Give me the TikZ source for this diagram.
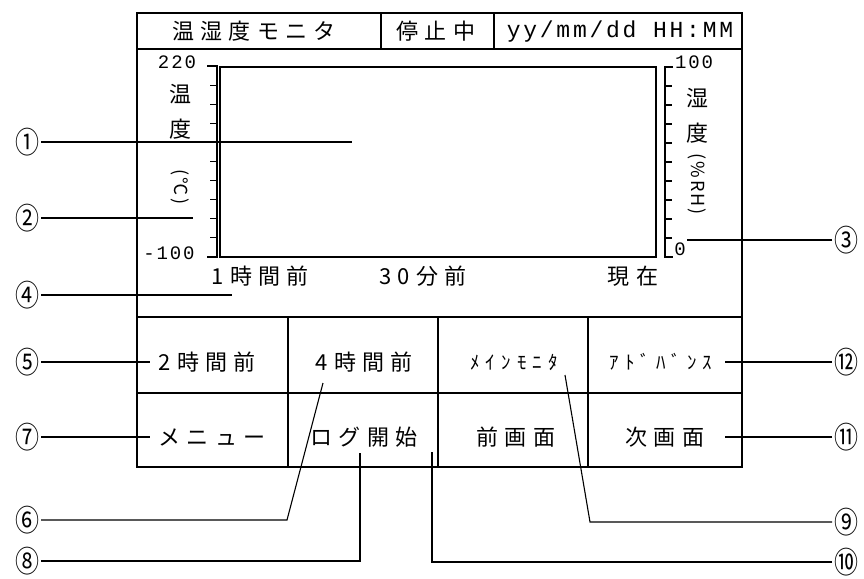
\documentclass[tikz,border=0pt]{standalone}
\usepackage{fontspec}
\setmainfont{Noto Sans CJK JP}
\newfontfamily\jp[LetterSpace=28]{Noto Sans CJK JP}
\newfontfamily\jph[LetterSpace=32]{Noto Sans CJK JP}
\newfontfamily\jpn[LetterSpace=12]{Noto Sans CJK JP}
\newfontfamily\monof[LetterSpace=12]{Liberation Mono}
\newfontfamily\digf[LetterSpace=10]{Liberation Mono}
\begin{document}
\begin{tikzpicture}[x=1pt,y=-1pt,
  frame/.style={line width=1.3pt,draw=black},
  axisln/.style={line width=1.1pt,draw=black},
  callout/.style={line width=1.1pt,draw=black},
  jt/.style={inner sep=0pt,font=\jp\fontsize{22}{24}\selectfont},
  ht/.style={inner sep=0pt,font=\jph\fontsize{19}{20}\selectfont},
  mt/.style={inner sep=0pt,font=\monof\fontsize{23}{24}\selectfont},
  dt/.style={inner sep=0pt,font=\digf\fontsize{19}{20}\selectfont},
  unit/.style={inner sep=0pt,font=\jpn\fontsize{18}{20}\selectfont},
  circ/.style={inner sep=0pt,outer sep=2pt,font=\fontsize{30}{30}\selectfont}]
\useasboundingbox (0,0) rectangle (864,578);
\fill[white] (0,0) rectangle (864,578);

% screen frame
\draw[frame] (137,13) rectangle (742,467);
\draw[frame] (137,49) -- (742,49);
\draw[frame] (381,13) -- (381,49);
\draw[frame] (494,13) -- (494,49);
\draw[frame] (137,317) -- (742,317);
\draw[frame] (137,393) -- (742,393);
\draw[frame] (288,317) -- (288,467);
\draw[frame] (438,317) -- (438,467);
\draw[frame] (588,317) -- (588,467);

% plot area
\draw[frame] (220,67) rectangle (656,257);
% left scale
\draw[axisln] (207,66) -- (217,66) -- (217,257) -- (207,257);
\foreach \i in {1,...,9} \draw[axisln] (210,{66+19.1*\i}) -- (217,{66+19.1*\i});
% right scale
\draw[axisln] (673,67) -- (665,67) -- (665,257) -- (673,257);
\foreach \i in {1,...,9} \draw[axisln] (665,{67+19*\i}) -- (672,{67+19*\i});

% header texts
\node[jt] (title) at (254,31) {温湿度モニタ};
\node[jt] (stop) at (436,31) {停止中};
\node[mt] (date) at (620,32) {yy/mm/dd HH:MM};

% scale labels
\node[dt] (t220) at (177,62) {220};
\node[dt] (tm100) at (169,253) {-100};
\node[dt] (h100) at (694,62) {100};
\node[dt] (h0) at (680,249) {0};
\node[jt] (lt1) at (180,94) {温};
\node[jt] (lt2) at (180,129) {度};
\node[unit,rotate=-90] (lt3) at (180,187) {(℃)};
\node[jt] (rt1) at (697,98) {湿};
\node[jt] (rt2) at (697,133) {度};
\node[unit,rotate=-90] (rt3) at (697,184) {(\%RH)};
\node[jt] (b1) at (260,276) {1時間前};
\node[jt] (b2) at (423,276) {30分前};
\node[jt] (b3) at (633,276) {現在};

% buttons
\node[jt] (k1) at (207,362) {2時間前};
\node[jt] (k2) at (364,362) {4時間前};
\node[ht] (k3) at (514,362) {ﾒｲﾝﾓﾆﾀ};
\node[ht] (k4) at (661,362) {ｱﾄﾞﾊﾞﾝｽ};
\node[jt] (k5) at (212,437) {メニュー};
\node[jt] (k6) at (364,437) {ログ開始};
\node[jt] (k7) at (516,437) {前画面};
\node[jt] (k8) at (665,437) {次画面};

% callout markers
\node[circ] (c1) at (27,142) {\scalebox{0.8}[1]{①}};
\node[circ] (c2) at (27,218) {\scalebox{0.8}[1]{②}};
\node[circ] (c4) at (27,295) {\scalebox{0.8}[1]{④}};
\node[circ] (c5) at (27,362) {\scalebox{0.8}[1]{⑤}};
\node[circ] (c7) at (27,437) {\scalebox{0.8}[1]{⑦}};
\node[circ] (c6) at (27,520) {\scalebox{0.8}[1]{⑥}};
\node[circ] (c8) at (27,561) {\scalebox{0.8}[1]{⑧}};
\node[circ] (c3) at (846,240) {\scalebox{0.8}[1]{③}};
\node[circ] (c12) at (846,362) {\scalebox{0.8}[1]{⑫}};
\node[circ] (c11) at (846,437) {\scalebox{0.8}[1]{⑪}};
\node[circ] (c9) at (846,522) {\scalebox{0.8}[1]{⑨}};
\node[circ] (c10) at (846,562) {\scalebox{0.8}[1]{⑩}};

% callout end points
\coordinate (e1) at (352,142);
\coordinate (e2) at (193,218);
\coordinate (e4) at (232,295);
\coordinate (e5) at (150,362);
\coordinate (e7) at (150,437);
\coordinate (m6) at (287,520);
\coordinate (e6) at (323,383);
\coordinate (m8) at (360,561);
\coordinate (e8) at (360,453);
\coordinate (e3) at (687,240);
\coordinate (e12) at (725,362);
\coordinate (e11) at (725,437);
\coordinate (m9) at (590,522);
\coordinate (e9) at (565,375);
\coordinate (m10) at (432,562);
\coordinate (e10) at (432,452);

\draw[callout] (c1.east) -- (e1);
\draw[callout] (c2.east) -- (e2);
\draw[callout] (c4.east) -- (e4);
\draw[callout] (c5.east) -- (e5);
\draw[callout] (c7.east) -- (e7);
\draw[callout] (c6.east) -- (m6) -- (e6);
\draw[callout] (c8.east) -- (m8) -- (e8);
\draw[callout] (c3.west) -- (e3);
\draw[callout] (c12.west) -- (e12);
\draw[callout] (c11.west) -- (e11);
\draw[callout] (c9.west) -- (m9) -- (e9);
\draw[callout] (c10.west) -- (m10) -- (e10);
\end{tikzpicture}
\end{document}
